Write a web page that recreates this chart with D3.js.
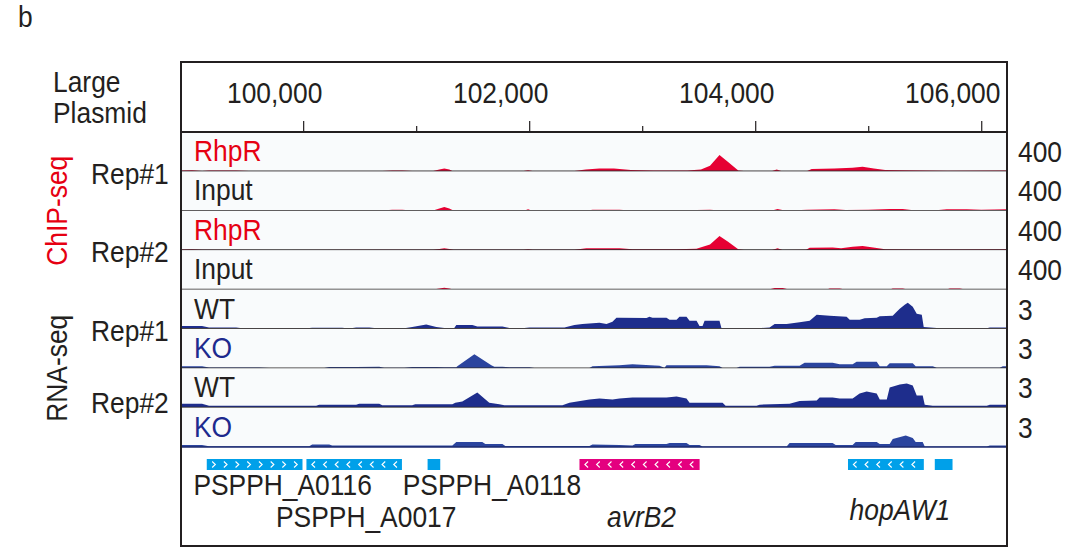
<!DOCTYPE html>
<html>
<head>
<meta charset="utf-8">
<script src="https://cdn.jsdelivr.net/npm/d3@7"></script>
<style>
body { margin: 0; background: #fff; }
text { font-family: "Liberation Sans", Arial, sans-serif; fill: #231f20; }
</style>
</head>
<body>
<script>
// genomic window shown (bp)
const viewRange = [98919, 106228];
const majorTicks = [100000, 102000, 104000, 106000];
const minorTicks = [101000, 103000, 105000];

// coverage tracks, [position bp, value]
const chipRhpR1 = [[98920,10],[99017,12],[99105,5],[99167,10],[99407,10],[99522,3],[100700,3],[100788,10],[100877,10],[100965,3],[101150,3],[101205,20],[101249,30],[101293,20],[101320,3],[101950,3],[101990,12],[102030,3],[102400,5],[102500,20],[102620,30],[102750,30],[102900,15],[103100,10],[103400,10],[103520,20],[103600,60],[103684,175],[103760,100],[103850,10],[103900,3],[104150,3],[104190,20],[104230,3],[104400,5],[104460,5],[104500,25],[104700,30],[104860,40],[104950,50],[105050,30],[105150,15],[105300,12],[105700,8],[106226,10]];
const chipInput1 = [[98920,3],[99017,6],[99105,3],[99167,6],[99407,6],[99522,2],[100700,2],[100788,10],[100877,10],[100965,2],[101150,2],[101205,25],[101249,40],[101293,25],[101330,2],[101960,3],[101990,15],[102020,3],[102520,3],[102560,10],[102799,10],[102900,3],[103400,3],[103480,8],[103600,10],[103700,3],[104150,3],[104198,20],[104250,5],[104300,3],[104460,12],[104700,15],[104800,8],[105000,10],[105190,18],[105305,18],[105400,5],[105600,5],[105695,15],[105872,15],[106000,12],[106226,15]];
const chipRhpR2 = [[98920,8],[99017,10],[99105,3],[99800,2],[100700,3],[100877,5],[101150,3],[101205,12],[101249,20],[101293,12],[101330,3],[101950,3],[101990,10],[102030,3],[102400,5],[102506,20],[102800,20],[102914,10],[103300,10],[103480,15],[103600,60],[103684,150],[103760,90],[103850,10],[103900,2],[104150,2],[104198,20],[104240,2],[104450,3],[104482,25],[104685,28],[104760,20],[104862,35],[104950,45],[105060,25],[105150,10],[105400,8],[105800,8],[106226,10]];
const chipInput2 = [[98920,3],[99200,3],[99300,0],[101150,0],[101205,12],[101249,18],[101293,10],[101330,0],[102000,0],[102100,5],[102200,0],[104120,0],[104172,15],[104243,15],[104300,0],[104630,0],[104659,10],[104747,10],[104800,0],[105190,0],[105217,10],[105305,10],[105350,0],[105690,0],[105722,10],[105810,10],[105850,3],[106226,5]];
const rnaWT1 = [[98920,0.24],[99105,0.24],[99167,0.12],[99407,0.12],[99477,0.04],[100009,0.04],[100080,0.1],[100345,0.1],[100407,0.04],[100469,0.12],[100585,0.12],[100673,0.04],[100895,0.06],[100965,0.16],[101089,0.35],[101178,0.16],[101249,0.08],[101337,0.08],[101355,0.32],[101497,0.32],[101541,0.2],[101763,0.2],[101825,0.08],[101957,0.08],[102002,0.12],[102312,0.12],[102400,0.32],[102471,0.4],[102622,0.49],[102684,0.4],[102737,0.57],[102772,0.89],[102799,0.89],[103038,0.87],[103064,0.97],[103091,0.89],[103215,0.89],[103242,0.73],[103304,0.73],[103330,0.97],[103392,0.97],[103419,0.65],[103481,0.65],[103507,0.24],[103534,0.24],[103552,0.65],[103684,0.65],[103702,0.04],[104012,0.04],[104127,0.12],[104172,0.4],[104278,0.4],[104393,0.53],[104482,0.65],[104544,1.13],[104659,1.05],[104809,0.97],[104836,0.73],[104924,0.73],[104969,0.85],[105075,0.89],[105102,1.01],[105217,1.05],[105243,1.3],[105279,1.62],[105323,1.94],[105350,2.1],[105394,1.78],[105429,1.22],[105474,1.13],[105491,0.16],[105606,0.08],[105677,0.02],[106031,0.02],[106076,0.12],[106226,0.12]];
const rnaKO1 = [[98920,0.16],[99105,0.16],[99167,0.06],[99610,0.06],[99699,0.02],[100186,0.02],[100230,0.1],[100469,0.1],[100673,0.12],[100717,0.04],[100895,0.04],[100965,0.1],[101178,0.1],[101249,0.08],[101355,0.08],[101364,0.16],[101515,1.13],[101665,0.24],[101692,0.12],[101763,0.12],[101825,0.08],[102002,0.08],[102046,0.02],[102533,0.02],[102560,0.16],[102799,0.24],[102914,0.32],[103153,0.2],[103197,0.04],[103215,0.24],[103569,0.24],[103684,0.16],[103711,0.02],[103835,0.02],[103862,0.12],[104127,0.12],[104172,0.2],[104393,0.2],[104437,0.45],[104685,0.45],[104747,0.32],[104862,0.32],[104897,0.53],[105075,0.53],[105102,0.16],[105164,0.16],[105190,0.4],[105394,0.4],[105420,0.16],[105571,0.16],[105606,0.04],[106164,0.04],[106191,0.16],[106226,0.16]];
const rnaWT2 = [[98920,0.32],[99105,0.32],[99167,0.16],[100115,0.16],[100142,0.24],[100469,0.24],[100496,0.32],[100673,0.32],[100700,0.2],[100965,0.2],[100992,0.28],[101320,0.28],[101346,0.4],[101408,0.49],[101541,1.22],[101647,0.4],[101736,0.28],[101780,0.2],[102294,0.2],[102356,0.4],[102533,0.65],[102622,0.73],[102737,0.65],[102799,0.73],[102914,0.81],[103215,0.81],[103304,0.89],[103392,0.73],[103419,0.4],[103711,0.4],[103738,0.16],[104012,0.16],[104039,0.24],[104304,0.32],[104393,0.53],[104544,0.57],[104570,0.81],[104685,0.81],[104747,0.73],[104862,0.73],[104924,1.13],[104986,1.3],[105075,1.13],[105102,0.65],[105164,0.65],[105190,1.62],[105279,1.86],[105341,1.94],[105394,1.78],[105429,0.97],[105482,0.97],[105500,0.24],[105571,0.16],[106049,0.16],[106076,0.24],[106226,0.24]];
const rnaKO2 = [[98920,0.16],[99105,0.16],[99167,0.06],[100053,0.06],[100080,0.2],[100230,0.2],[100257,0.12],[101320,0.12],[101355,0.4],[101585,0.4],[101612,0.24],[101763,0.24],[101789,0.08],[102533,0.08],[102560,0.2],[102799,0.16],[102914,0.12],[102940,0.24],[103215,0.24],[103242,0.32],[103392,0.32],[103419,0.16],[103507,0.16],[103534,0.04],[104278,0.04],[104304,0.32],[104685,0.32],[104712,0.16],[104862,0.16],[104889,0.4],[105075,0.4],[105102,0.24],[105190,0.24],[105217,0.65],[105332,0.93],[105394,0.73],[105420,0.4],[105482,0.4],[105500,0.04],[106049,0.04],[106076,0.12],[106226,0.12]];

const trackNames = ["RhpR", "Input", "RhpR", "Input", "WT", "KO", "WT", "KO"];
const trackMax = [400, 400, 400, 400, 3, 3, 3, 3];
const trackData = [chipRhpR1, chipInput1, chipRhpR2, chipInput2, rnaWT1, rnaKO1, rnaWT2, rnaKO2];
const repLabels = ["Rep#1", "Rep#2", "Rep#1", "Rep#2"];
const assayLabels = ["ChIP-seq", "RNA-seq"];

// genes
const geneNames = ["PSPPH_A0116", "PSPPH_A0017", "PSPPH_A0118", "avrB2", "hopAW1", ""];
const geneStarts = [99147, 100029, 101101, 102445, 104821, 105589];
const geneEnds = [99994, 100874, 101213, 103508, 105492, 105746];
const geneStrands = ["+", "-", ".", "-", "-", "."];

const W = 1084, H = 548;
const frameLeft = 181, frameRight = 1007, frameTop = 62, axisY = 132, tracksBottom = 447, frameBottom = 546;
const trackH = (tracksBottom - axisY) / trackNames.length;
const fs = 29, squeeze = 0.91; // the figure's font is a slightly narrow sans

const red = "#e60033", navy = "#1e2d8c", koFill = "#2b449e", koText = "#1d2a8e";
const fillColor = i => i < 4 ? red : (trackNames[i] === "KO" ? koFill : navy);
const labelColor = n => n === "RhpR" ? "#e60012" : n === "KO" ? koText : "#231f20";

const svg = d3.select("body").append("svg")
    .attr("width", W)
    .attr("height", H);

function label(parent, tx, ty, str, extra = "") {
    return parent.append("text")
        .attr("transform", `translate(${tx},${ty}) ${extra} scale(${squeeze},1)`)
        .style("font-size", fs + "px")
        .text(str);
}

const x = d3.scaleLinear().domain(viewRange).range([frameLeft, frameRight]);

label(svg, 18, 27, "b");

// header
label(svg, 53, 92, "Large");
label(svg, 53, 123, "Plasmid");

const gx = svg.append("g")
    .attr("transform", `translate(0,${axisY})`)
    .call(d3.axisTop(x).tickValues(majorTicks).tickSize(11).tickPadding(18).tickFormat(d3.format(",")));
gx.select(".domain").remove();
gx.selectAll("line").attr("stroke", "#231f20").attr("stroke-width", 1.2);
gx.selectAll("text")
    .attr("transform", `translate(-29,0) scale(${squeeze},1)`)
    .attr("fill", "#231f20")
    .style("font-family", "'Liberation Sans', Arial, sans-serif")
    .style("font-size", fs + "px");

const gm = svg.append("g")
    .attr("transform", `translate(0,${axisY})`)
    .call(d3.axisTop(x).tickValues(minorTicks).tickSize(6).tickFormat(""));
gm.select(".domain").remove();
gm.selectAll("line").attr("stroke", "#231f20").attr("stroke-width", 1.2);

// tracks
trackNames.forEach((name, i) => {
    const t = axisY + i * trackH;
    const b = t + trackH;
    const y = d3.scaleLinear().domain([0, trackMax[i]]).range([b, t + 2]);
    const g = svg.append("g").attr("class", "track");

    g.append("rect")
        .attr("x", frameLeft).attr("y", t)
        .attr("width", frameRight - frameLeft).attr("height", trackH)
        .attr("fill", "#f9fbfc");

    g.append("path")
        .datum(trackData[i])
        .attr("fill", fillColor(i))
        .attr("d", d3.area()
            .x(d => x(d[0]))
            .y0(b)
            .y1(d => y(d[1])));

    g.append("line")
        .attr("x1", frameLeft).attr("x2", frameRight)
        .attr("y1", b).attr("y2", b)
        .attr("stroke", i === 7 ? "#1d2a6e" : "#2e2a2b")
        .attr("stroke-width", 1.6);

    label(g, 194, t + 29, name).style("fill", labelColor(name));
    label(g, 1018, t + 30, trackMax[i]);
});

// replicate labels sit near the boundary of their two tracks
const repOffsets = [12.6, 11.6, 11.8, 5.7];
repLabels.forEach((r, k) => {
    label(svg, 91, axisY + (2 * k + 1) * trackH + repOffsets[k], r);
});

assayLabels.forEach((a, k) => {
    const cy = axisY + (4 * k + 2) * trackH;
    label(svg, 67, cy, a, "rotate(-90)")
        .attr("text-anchor", "middle")
        .style("fill", k === 0 ? "#e60012" : "#231f20");
});

// gene annotation
const barY = 459, barH = 11;
const geneG = svg.append("g");
geneNames.forEach((n, i) => {
    const x0 = x(geneStarts[i]), x1 = x(geneEnds[i]);
    geneG.append("rect")
        .attr("x", x0).attr("y", barY)
        .attr("width", x1 - x0).attr("height", barH)
        .attr("fill", n === "avrB2" ? "#e4007f" : "#00a0e9");
    if (geneStrands[i] === ".") return;
    const dir = geneStrands[i] === "+" ? 1 : -1;
    for (let cx = x0 + 7; cx < x1 - 3; cx += 11.7) {
        geneG.append("polyline")
            .attr("points", `${cx - 1.6 * dir},${barY + 2.5} ${cx + 1.6 * dir},${barY + barH / 2} ${cx - 1.6 * dir},${barY + barH - 2.5}`)
            .attr("fill", "none")
            .attr("stroke", "#fff")
            .attr("stroke-width", 1.1);
    }
});

// label placement: shift from gene centre, baseline
const labelDx = [28, 12, 58, 2, 14];
const labelY = [495, 527, 495, 527, 520];
geneNames.forEach((n, i) => {
    if (!n) return;
    label(geneG, (x(geneStarts[i]) + x(geneEnds[i])) / 2 + labelDx[i], labelY[i], n)
        .attr("text-anchor", "middle")
        .style("font-style", n.startsWith("PSPPH") ? "normal" : "italic");
});

// frame
svg.append("line")
    .attr("x1", frameLeft).attr("x2", frameRight)
    .attr("y1", axisY).attr("y2", axisY)
    .attr("stroke", "#231f20").attr("stroke-width", 2);
svg.append("rect")
    .attr("x", frameLeft).attr("y", frameTop)
    .attr("width", frameRight - frameLeft).attr("height", frameBottom - frameTop)
    .attr("fill", "none")
    .attr("stroke", "#231f20")
    .attr("stroke-width", 2);
</script>
</body>
</html>
